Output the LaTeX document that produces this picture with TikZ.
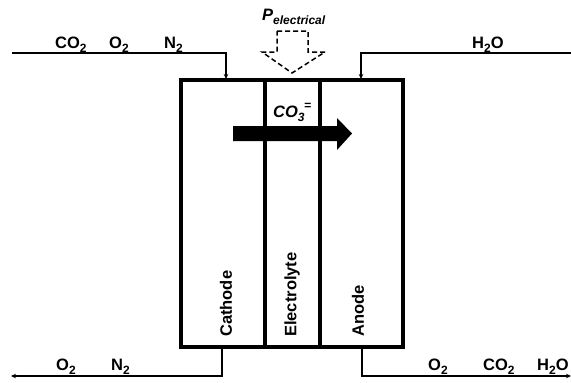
\documentclass[tikz,border=0pt]{standalone}
\usepackage{fontspec}
\setmainfont{Liberation Sans}
\usetikzlibrary{arrows.meta}
\newcommand{\lsub}[1]{\raisebox{-0.28em}{\fontsize{12}{14}\selectfont #1}}
\newcommand{\lsup}[1]{\raisebox{0.45em}{\fontsize{12}{14}\selectfont #1}}
\tikzset{
  lbl/.style={inner sep=0pt, font=\fontsize{16.5}{19}\selectfont\bfseries},
  vlbl/.style={lbl, rotate=90, anchor=west},
  flow/.style={line width=1.3pt, -{Stealth[length=5pt,width=4.5pt]}},
  wall/.style={line width=3.2pt},
}
\begin{document}
\begin{tikzpicture}[x=1pt,y=-1pt]
\useasboundingbox (0,0) rectangle (571,383);
% cell
\draw[wall] (181,80) rectangle (403,347);
\draw[wall] (265,80) -- (265,347);
\draw[wall] (320,80) -- (320,347);
% connector points
\coordinate (cin0) at (12,53);
\coordinate (cin1) at (226,53);
\coordinate (cin2) at (226,79);
\coordinate (ain0) at (571,53);
\coordinate (ain1) at (361,53);
\coordinate (ain2) at (361,79);
\coordinate (cout0) at (222,348);
\coordinate (cout1) at (222,376);
\coordinate (cout2) at (11,376);
\coordinate (aout0) at (362,348);
\coordinate (aout1) at (362,376);
\coordinate (aout2) at (571,376);
\draw[flow] (cin0) -- (cin1) -- (cin2);
\draw[flow] (ain0) -- (ain1) -- (ain2);
\draw[flow] (cout0) -- (cout1) -- (cout2);
\draw[flow] (aout0) -- (aout1) -- (aout2);
% labels top
\node[lbl, anchor=base west] (t1) at (55,48) {CO\lsub{2}};
\node[lbl, anchor=base west] (t2) at (109,48) {O\lsub{2}};
\node[lbl, anchor=base west] (t3) at (164,48) {N\lsub{2}};
\node[lbl, anchor=base west] (t4) at (472,48) {H\lsub{2}O};
% labels bottom
\node[lbl, anchor=base west] (b1) at (56,370) {O\lsub{2}};
\node[lbl, anchor=base west] (b2) at (111,370) {N\lsub{2}};
\node[lbl, anchor=base west] (b3) at (428,370) {O\lsub{2}};
\node[lbl, anchor=base west] (b4) at (483,370) {CO\lsub{2}};
\node[lbl, anchor=base west] (b5) at (537,370) {H\lsub{2}O};
% vertical labels
\node[vlbl] (cath) at (226,337) {Cathode};
\node[vlbl] (elec) at (292,337) {Electrolyte};
\node[vlbl] (anod) at (358,337) {Anode};
% power arrow
\draw[line width=1.5pt, dash pattern=on 5pt off 3pt]
  (277,31) -- (308,31) -- (308,52) -- (325,52) -- (292,73) -- (262,52) -- (277,52) -- cycle;
\node[lbl, anchor=base west] (pel) at (262,20) {\itshape P\lsub{electrical}};
% carbonate arrow
\fill (233,126) -- (337,126) -- (337,118) -- (352,133.5) -- (337,150) -- (337,141) -- (233,141) -- cycle;
\node[lbl, anchor=base west] (co3) at (273,117) {\itshape CO\lsub{3}\kern-0.5pt\lsup{=}};
\end{tikzpicture}
\end{document}
